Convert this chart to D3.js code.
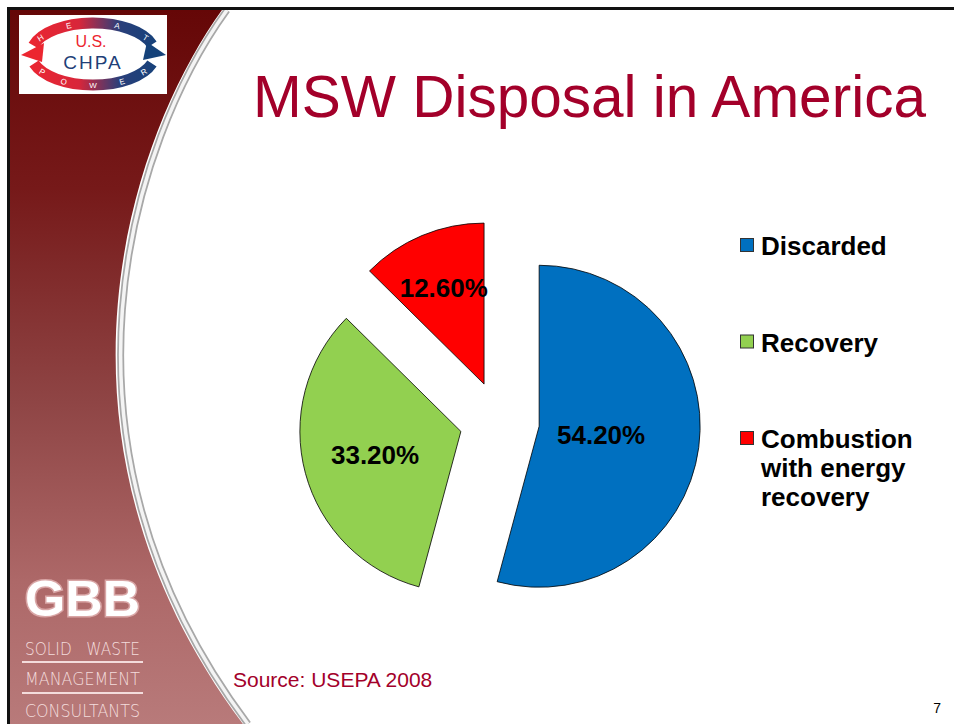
<!DOCTYPE html>
<html>
<head>
<meta charset="utf-8">
<script src="https://cdn.jsdelivr.net/npm/d3@7"></script>
<style>
  body { margin: 0; background: #fff; }
  svg { display: block; font-family: "Liberation Sans", Arial, sans-serif; }
</style>
</head>
<body>
<div id="wrapper"></div>
<script>
// DATA
const categories = ["Discarded", "Recovery", "Combustion with energy recovery"];
const shares = [54.2, 33.2, 12.6];
const legendLines = [["Discarded"], ["Recovery"], ["Combustion", "with energy", "recovery"]];
const sliceColors = ["#0070C0", "#92D050", "#FF0000"];
const titleText = "MSW Disposal in America";
const sourceText = "Source: USEPA 2008";
const gbbLines = ["SOLID   WASTE", "MANAGEMENT", "CONSULTANTS"];

function drawChart() {
  const width = 954, height = 724;
  const svg = d3.select("#wrapper").append("svg")
    .attr("width", width)
    .attr("height", height);

  const defs = svg.append("defs");
  const grad = defs.append("linearGradient")
    .attr("id", "side").attr("x1", 0).attr("y1", 0).attr("x2", 0).attr("y2", 1);
  [[0, "#650707"], [0.25, "#761919"], [0.55, "#8f4545"], [0.8, "#ad6868"], [1, "#b87a7a"]]
    .forEach(([o, c]) => grad.append("stop").attr("offset", o).attr("stop-color", c));

  const ring = defs.append("linearGradient")
    .attr("id", "ring").attr("gradientUnits", "userSpaceOnUse")
    .attr("x1", 25).attr("y1", 0).attr("x2", 160).attr("y2", 0);
  ring.append("stop").attr("offset", 0).attr("stop-color", "#ec2630");
  ring.append("stop").attr("offset", 0.4).attr("stop-color", "#d8263a");
  ring.append("stop").attr("offset", 0.7).attr("stop-color", "#2a3f7a");
  ring.append("stop").attr("offset", 1).attr("stop-color", "#15427a");

  // SIDEBAR
  const curve = "M222,10 C128,140 30,440 243,724";
  svg.append("path")
    .attr("d", curve + " L9,724 L9,10 Z")
    .attr("fill", "url(#side)");
  svg.append("path").attr("d", curve).attr("transform", "translate(5,0)")
    .attr("fill", "none").attr("stroke", "#a8a8a8").attr("stroke-width", 7);
  svg.append("path").attr("d", curve).attr("transform", "translate(5,0)")
    .attr("fill", "none").attr("stroke", "#f4f4f4").attr("stroke-width", 3.5);

  // slide border
  svg.append("rect").attr("x", 7).attr("y", 7).attr("width", width).attr("height", 3).attr("fill", "#111");
  svg.append("rect").attr("x", 7).attr("y", 7).attr("width", 3).attr("height", height).attr("fill", "#111");

  // US CHPA logo
  const logo = svg.append("g");
  logo.append("rect").attr("x", 19).attr("y", 15).attr("width", 148).attr("height", 79).attr("fill", "#fff");
  const lcx = 93, lcy = 54, lrx = 62, lry = 31;
  const ell = t => [lcx + lrx * Math.cos(t * Math.PI / 180), lcy + lry * Math.sin(t * Math.PI / 180)];
  const arcPath = (a0, a1, sweep) => {
    const p0 = ell(a0), p1 = ell(a1);
    return `M${p0[0]},${p0[1]} A${lrx},${lry} 0 0 ${sweep} ${p1[0]},${p1[1]}`;
  };
  logo.append("path").attr("d", arcPath(196, 342, 1))
    .attr("fill", "none").attr("stroke", "url(#ring)").attr("stroke-width", 11);
  logo.append("path").attr("d", arcPath(162, 18, 0))
    .attr("fill", "none").attr("stroke", "url(#ring)").attr("stroke-width", 11);
  // arrow heads
  logo.append("path").attr("d", "M21,55 L44,43 L42,62 Z").attr("fill", "#ec2630");
  logo.append("path").attr("d", "M166,55 L143,60 L147,42 Z").attr("fill", "#15427a");
  const heat = ["H", "E", "A", "T"], heatAng = [212, 247, 293, 328];
  heat.forEach((ch, i) => {
    const [x, y] = ell(heatAng[i]);
    logo.append("text").attr("x", x).attr("y", y + 3).attr("text-anchor", "middle")
      .attr("font-size", 8).attr("fill", "#fff")
      .attr("transform", `rotate(${(heatAng[i] - 270) * 0.55},${x},${y})`).text(ch);
  });
  const power = ["P", "O", "W", "E", "R"], powerAng = [145, 118, 90, 62, 35];
  power.forEach((ch, i) => {
    const [x, y] = ell(powerAng[i]);
    logo.append("text").attr("x", x).attr("y", y + 3).attr("text-anchor", "middle")
      .attr("font-size", 8).attr("fill", "#fff")
      .attr("transform", `rotate(${(powerAng[i] - 90) * 0.55},${x},${y})`).text(ch);
  });
  logo.append("text").attr("x", 91).attr("y", 47).attr("text-anchor", "middle")
    .attr("font-size", 16).attr("fill", "#ec2630").text("U.S.");
  logo.append("text").attr("x", 93).attr("y", 69).attr("text-anchor", "middle")
    .attr("font-size", 19).attr("letter-spacing", 2).attr("fill", "#1f3f78").text("CHPA");

  // GBB logo
  svg.append("text").attr("x", 25).attr("y", 616)
    .attr("font-size", 50).attr("font-weight", 900)
    .attr("textLength", 115).attr("lengthAdjust", "spacingAndGlyphs")
    .attr("fill", "#fff").attr("stroke", "#d9a6a6").attr("stroke-width", 3)
    .attr("paint-order", "stroke").text("GBB");
  svg.selectAll(".gbb").data(gbbLines).enter().append("text")
    .attr("x", 25).attr("y", (d, i) => [655, 685, 717][i])
    .attr("font-size", 17).attr("font-family", "DejaVu Sans").attr("font-weight", 200)
    .attr("textLength", 115).attr("lengthAdjust", "spacingAndGlyphs")
    .attr("fill", "#f3dcdc").attr("xml:space", "preserve").text(d => d);
  [661, 692].forEach(y => svg.append("rect").attr("x", 22).attr("y", y).attr("width", 121).attr("height", 2).attr("fill", "#f3dcdc"));

  // TITLE etc
  svg.append("text").attr("x", 253).attr("y", 117)
    .attr("font-size", 58.5).attr("fill", "#A3002A").text(titleText);
  svg.append("text").attr("x", 233).attr("y", 687)
    .attr("font-size", 21).attr("fill", "#A3002A").text(sourceText);
  svg.append("text").attr("x", 941).attr("y", 713).attr("text-anchor", "end")
    .attr("font-size", 14).attr("fill", "#000").text("7");

  // PIE
  const cx = 499.5, cy = 421, radius = 161, explode = 40;
  const pie = d3.pie().sort(null).value(d => d)(shares);
  const arc = d3.arc().innerRadius(0).outerRadius(radius);
  const pieG = svg.append("g").attr("transform", `translate(${cx},${cy})`);

  const midAngle = d => (d.startAngle + d.endAngle) / 2;
  // labels sit at the area centroid of each sector
  const labelDist = d => {
    const t = d.endAngle - d.startAngle;
    return 4 * radius * Math.sin(t / 2) / (3 * t);
  };

  const slices = pieG.selectAll(".slice").data(pie).enter().append("g")
    .attr("class", "slice")
    .attr("transform", d => `translate(${explode * Math.sin(midAngle(d))},${-explode * Math.cos(midAngle(d))})`);
  slices.append("path")
    .attr("d", arc)
    .attr("fill", (d, i) => sliceColors[i])
    .attr("stroke", "#000").attr("stroke-width", 0.8);
  slices.append("text")
    .attr("x", d => labelDist(d) * Math.sin(midAngle(d)))
    .attr("y", d => -labelDist(d) * Math.cos(midAngle(d)))
    .attr("text-anchor", "middle").attr("dy", "0.36em")
    .attr("font-size", 26).attr("font-weight", "bold")
    .text(d => d3.format(".2f")(d.data) + "%");

  // LEGEND
  const legendY = d3.scaleLinear().domain([0, 1]).range([255, 351.5]);
  const legend = svg.selectAll(".legend").data(categories).enter().append("g")
    .attr("class", "legend")
    .attr("transform", (d, i) => `translate(740,${legendY(i)})`);
  legend.append("rect")
    .attr("x", 0.5).attr("y", -16.5).attr("width", 13).attr("height", 13)
    .attr("fill", (d, i) => sliceColors[i]).attr("stroke", "#333").attr("stroke-width", 1);
  legend.append("text")
    .attr("x", 21)
    .attr("font-size", 26).attr("font-weight", "bold")
    .selectAll("tspan").data((d, i) => legendLines[i]).enter().append("tspan")
    .attr("x", 21).attr("dy", (d, j) => j === 0 ? 0 : 29)
    .text(d => d);
}
drawChart();
</script>
</body>
</html>
